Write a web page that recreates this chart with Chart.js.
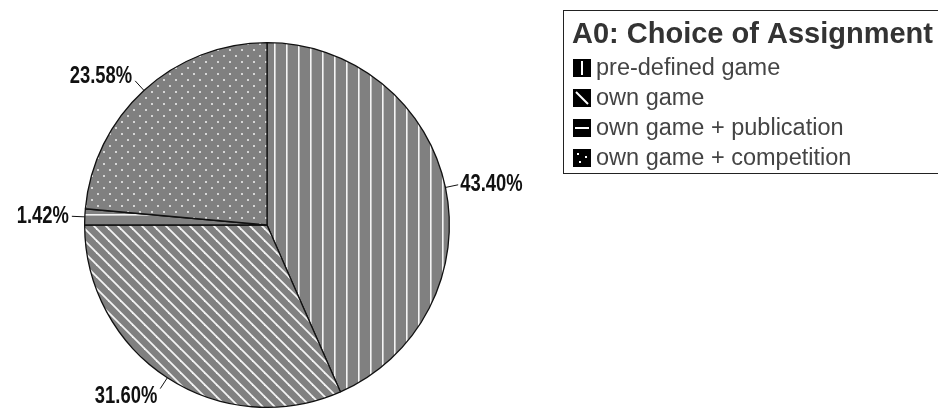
<!DOCTYPE html>
<html>
<head>
<meta charset="utf-8">
<script src="https://cdn.jsdelivr.net/npm/chart.js@4.4.1/dist/chart.umd.min.js"></script>
<style>
  html, body { margin: 0; padding: 0; background: #fff; }
  #wrap { width: 938px; height: 413px; position: relative; }
</style>
</head>
<body>
<div id="wrap"><canvas id="c" width="938" height="413"></canvas></div>
<script>
const chartTitle = 'A0: Choice of Assignment';
const categories = ['pre-defined game', 'own game', 'own game + publication', 'own game + competition'];
const values = [43.40, 31.60, 1.42, 23.58];
const valueLabels = ['43.40%', '31.60%', '1.42%', '23.58%'];
const patternKinds = ['vertical', 'diagonal', 'horizontal', 'dots'];

function makeTile(kind, size, bg, fg) {
  const c = document.createElement('canvas');
  c.width = size; c.height = size;
  const g = c.getContext('2d');
  g.fillStyle = bg; g.fillRect(0, 0, size, size);
  g.fillStyle = fg; g.strokeStyle = fg;
  if (kind === 'vertical') {
    g.fillRect(size - 2, 0, 1.6, size);
  } else if (kind === 'horizontal') {
    g.fillRect(0, size - 2, size, 1.6);
  } else if (kind === 'diagonal') {
    g.lineWidth = 1.8;
    for (let o = -size; o <= size; o += size) {
      g.beginPath(); g.moveTo(o - 1, -1); g.lineTo(o + size + 1, size + 1); g.stroke();
    }
  } else if (kind === 'dots') {
    g.fillRect(1, 1, 2, 2);
    g.fillRect(1 + size / 2, 1 + size / 2, 2, 2);
  }
  return c;
}

const canvas = document.getElementById('c');
const ctx = canvas.getContext('2d');
const patterns = patternKinds.map(k => ctx.createPattern(makeTile(k, 12, '#808080', k === 'dots' ? '#d6d6d6' : '#f4f4f4'), 'repeat'));

const labelPlugin = {
  id: 'valueLabels',
  afterDatasetsDraw(chart) {
    const meta = chart.getDatasetMeta(0);
    const c = chart.ctx;
    c.save();
    c.strokeStyle = '#111';
    c.lineWidth = 1;
    const narrow = 0.8;
    meta.data.forEach((arc, i) => {
      const p = arc.getProps(['x', 'y', 'startAngle', 'endAngle', 'outerRadius'], true);
      const mid = (p.startAngle + p.endAngle) / 2;
      const dx = Math.cos(mid), dy = Math.sin(mid);
      const sx = p.x + dx * p.outerRadius, sy = p.y + dy * p.outerRadius;
      const len = 13;
      const ex = sx + dx * len, ey = sy + dy * len;
      c.beginPath(); c.moveTo(sx, sy); c.lineTo(ex, ey); c.stroke();
      const right = dx >= 0;
      let ty, base;
      if (dy > 0.5) { base = 'top'; ty = ey - 3; }
      else if (dy < -0.5) { base = 'bottom'; ty = ey + 7; }
      else { base = 'middle'; ty = ey; }
      c.save();
      c.font = 'bold 23px "Liberation Sans", Arial, sans-serif';
      c.fillStyle = '#111';
      c.textBaseline = base;
      c.textAlign = right ? 'left' : 'right';
      c.translate(ex + (right ? 2 : -3), ty);
      c.scale(narrow, 1);
      c.fillText(valueLabels[i], 0, 0);
      c.restore();
    });
    c.restore();
  }
};

const legendPlugin = {
  id: 'boxLegend',
  afterDraw(chart) {
    const c = chart.ctx;
    c.save();
    const bx = 563.5, by = 10.5, bw = 380, bh = 163;
    c.strokeStyle = '#222'; c.lineWidth = 1;
    c.strokeRect(bx, by, bw, bh);
    c.fillStyle = '#333';
    c.font = 'bold 29px "Liberation Sans", Arial, sans-serif';
    c.textBaseline = 'alphabetic'; c.textAlign = 'left';
    c.fillText(chartTitle, 572, 43);
    c.font = '23.5px "Liberation Sans", Arial, sans-serif';
    chart.data.labels.forEach((lab, i) => {
      const cy = 68 + i * 30;
      const mx = 573, my = cy - 9, ms = 18;
      c.fillStyle = '#000';
      c.fillRect(mx, my, ms, ms);
      c.strokeStyle = '#fff'; c.fillStyle = '#fff'; c.lineWidth = 2;
      const k = patternKinds[i];
      if (k === 'vertical') { c.fillRect(mx + 8, my + 2, 2, ms - 4); }
      else if (k === 'horizontal') { c.fillRect(mx + 2, my + 8, ms - 4, 2); }
      else if (k === 'diagonal') { c.beginPath(); c.moveTo(mx + 3, my + 3); c.lineTo(mx + ms - 3, my + ms - 3); c.stroke(); }
      else { c.fillRect(mx + 4, my + 4, 2, 2); c.fillRect(mx + 12, my + 7, 2, 2); c.fillRect(mx + 6, my + 12, 2, 2); }
      c.fillStyle = '#444';
      c.textBaseline = 'middle';
      c.fillText(lab, 596, cy + 1);
    });
    c.restore();
  }
};

new Chart(canvas, {
  type: 'pie',
  data: {
    labels: categories,
    datasets: [{
      data: values,
      backgroundColor: patterns,
      borderColor: '#111',
      borderWidth: 1.3
    }]
  },
  options: {
    responsive: false,
    devicePixelRatio: 1,
    animation: false,
    layout: { padding: { left: 84, top: 42, right: 488, bottom: 5 } },
    plugins: {
      legend: { display: false },
      tooltip: { enabled: false },
      title: { display: false }
    }
  },
  plugins: [labelPlugin, legendPlugin]
});
</script>
</body>
</html>
